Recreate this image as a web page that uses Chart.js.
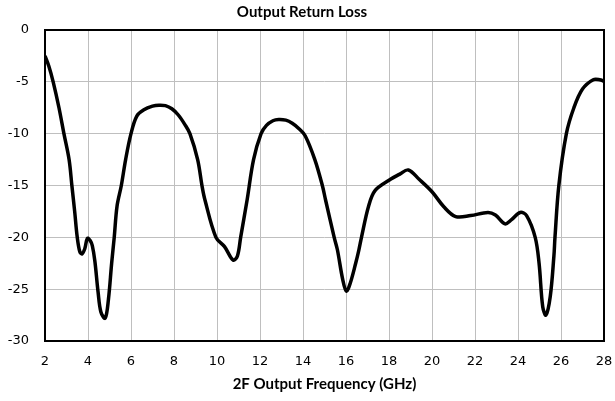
<!DOCTYPE html>
<html>
<head>
<meta charset="utf-8">
<script src="https://cdn.jsdelivr.net/npm/chart.js@4"></script>
<style>
  html, body { margin: 0; padding: 0; background: #fff; }
  #wrap { width: 615px; height: 401px; }
</style>
</head>
<body>
<div id="wrap"><canvas id="chart"></canvas></div>
<script>
// frequency (GHz) and return loss (dB)
const freqGHz = [2.0, 2.18, 2.38, 2.65, 2.88, 3.12, 3.25, 3.38, 3.5, 3.62, 3.72, 3.85, 3.97, 4.1, 4.2, 4.32, 4.47, 4.6, 4.8, 4.95,
  5.1, 5.22, 5.35, 5.55, 5.75, 6.0, 6.27, 6.6, 7.0, 7.3, 7.6, 7.9, 8.2, 8.5, 8.74, 9.1, 9.3, 9.44, 9.95, 10.35, 10.75, 10.95,
  11.1, 11.4, 11.7, 12.05, 12.3, 12.6, 12.87, 13.2, 13.5, 13.8, 14.1, 14.55, 14.9, 15.05, 15.45, 15.6, 15.85, 16.02, 16.2, 16.45,
  16.6, 16.72, 17.05, 17.35, 18.0, 18.5, 18.9, 19.4, 20.0, 20.55, 21.1, 21.8, 22.6, 22.95, 23.4, 23.7, 24.1, 24.4,
  24.8, 24.98, 25.15, 25.3, 25.5, 25.67, 25.72, 25.9, 26.25, 26.6, 27.0, 27.5, 27.8, 28.0];
const lossDb = [-2.5, -3.5, -5.0, -7.5, -10.0, -12.5, -15.0, -17.5, -20.0, -21.4, -21.6, -21.1, -20.1, -20.3, -20.8, -22.3, -25.3, -27.2, -27.8, -26.0,
  -22.5, -20.0, -17.0, -15.0, -12.5, -10.0, -8.3, -7.7, -7.35, -7.25, -7.3, -7.6, -8.2, -9.1, -10.0, -12.5, -15.0, -16.4, -20.0, -20.9, -22.2, -21.8,
  -20.0, -16.4, -12.5, -10.0, -9.2, -8.75, -8.63, -8.7, -9.0, -9.5, -10.2, -12.5, -15.0, -16.4, -20.0, -21.2, -24.1, -25.2, -24.4, -22.5,
  -21.2, -20.0, -17.0, -15.5, -14.5, -13.9, -13.5, -14.4, -15.6, -17.05, -18.0, -17.9, -17.6, -17.85, -18.7, -18.3, -17.6, -17.9,
  -20.0, -22.5, -26.7, -27.5, -25.7, -21.8, -20.0, -15.0, -10.0, -7.5, -5.7, -4.8, -4.8, -4.95];
const xTicks = [2, 4, 6, 8, 10, 12, 14, 16, 18, 20, 22, 24, 26, 28];
const yTicks = [0, -5, -10, -15, -20, -25, -30];

const points = freqGHz.map((f, i) => ({ x: f, y: lossDb[i] }));

const frame = {
  id: 'frame',
  afterDatasetsDraw(chart) {
    const { ctx, chartArea: a } = chart;
    ctx.save();
    ctx.strokeStyle = '#000';
    ctx.lineWidth = 2;
    ctx.strokeRect(a.left, a.top, a.right - a.left, a.bottom - a.top);
    ctx.restore();
  }
};

const titleFont = 'Lato, "Liberation Sans", sans-serif';
const tickFont = '"DejaVu Sans", sans-serif';

new Chart(document.getElementById('chart'), {
  type: 'scatter',
  data: {
    datasets: [{
      data: points,
      showLine: true,
      borderColor: '#000',
      borderWidth: 3.5,
      pointRadius: 0,
      tension: 0.35,
      fill: false
    }]
  },
  options: {
    responsive: true,
    maintainAspectRatio: false,
    animation: false,
    layout: { padding: { left: 0, right: 11, top: 0, bottom: 2 } },
    plugins: {
      legend: { display: false },
      tooltip: { enabled: false },
      title: {
        display: true,
        text: 'Output Return Loss',
        color: '#000',
        font: { family: titleFont, size: 15, weight: 'bold' },
        padding: { top: 3, bottom: 9 }
      }
    },
    scales: {
      x: {
        type: 'linear',
        min: 2, max: 28,
        afterBuildTicks: s => { s.ticks = xTicks.map(v => ({ value: v })); },
        afterFit: s => { s.height = 58; s.paddingLeft = 0; s.paddingRight = 0; },
        grid: { color: '#bfbfbf', lineWidth: 1, drawTicks: false },
        border: { display: false },
        ticks: { color: '#000', font: { family: tickFont, size: 13 }, padding: 13, maxRotation: 0 },
        title: {
          display: true,
          text: '2F Output Frequency (GHz)',
          color: '#000',
          font: { family: titleFont, size: 15, weight: 'bold' },
          padding: { top: 5, bottom: 6 }
        }
      },
      y: {
        min: -30, max: 0,
        afterBuildTicks: s => { s.ticks = yTicks.map(v => ({ value: v })); },
        afterFit: s => { s.width = 45; },
        grid: { color: '#bfbfbf', lineWidth: 1, drawTicks: false },
        border: { display: false },
        ticks: { color: '#000', font: { family: tickFont, size: 13 }, padding: 16 }
      }
    }
  },
  plugins: [frame]
});
</script>
</body>
</html>
